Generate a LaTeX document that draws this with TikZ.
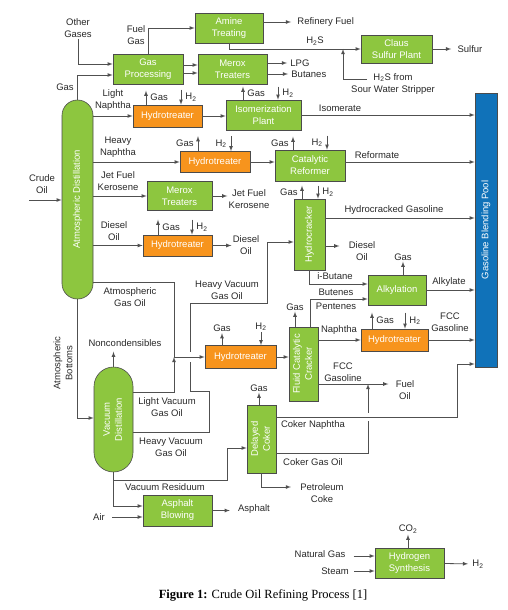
\documentclass[tikz,border=0pt]{standalone}
\usepackage{fontspec}
\setmainfont{Liberation Sans}
\newfontfamily\capfont{Liberation Serif}
\definecolor{procgreen}{RGB}{141,198,63}
\definecolor{htrorange}{RGB}{247,148,29}
\definecolor{poolblue}{RGB}{16,114,185}
\definecolor{edgegray}{RGB}{75,75,75}
\definecolor{linegray}{RGB}{80,80,80}
\definecolor{txtgray}{RGB}{40,40,40}
\newcommand{\vtxt}[1]{\rotatebox{90}{\begin{tabular}{@{}c@{}}#1\end{tabular}}}
\begin{document}
\begin{tikzpicture}[x=1pt,y=-1pt,>=latex,line width=.8pt,
    every node/.style={font=\fontsize{9.5}{12}\selectfont},
    proc/.style={draw=edgegray,line width=.6pt,fill=procgreen,text=white,align=center,inner sep=0pt},
    htr/.style={proc,fill=htrorange},
    lbl/.style={text=txtgray,align=center,inner sep=1pt},
    flow/.style={draw=linegray,->}]
    \useasboundingbox (0,0) rectangle (507,610);
    % units
    \node [proc,rounded corners=15.5pt,minimum width=31pt,minimum height=199pt] (atm) at (77.5,199.5) {\vtxt{Atmospheric Distillation}};
    \node [proc,rounded corners=19.5pt,minimum width=39pt,minimum height=105pt] (vac) at (113.5,419.5) {\vtxt{Vacuum\\Distillation}};
    \node [proc,minimum width=70pt,minimum height=30pt] (gasproc) at (148,69) {Gas\\Processing};
    \node [proc,minimum width=68pt,minimum height=30pt] (amine) at (229,28) {Amine\\Treating};
    \node [proc,minimum width=69pt,minimum height=30pt] (merox1) at (232.5,69) {Merox\\Treaters};
    \node [proc,minimum width=71pt,minimum height=28pt] (claus) at (396.5,49) {Claus\\Sulfur Plant};
    \node [htr,minimum width=69pt,minimum height=22pt] (ht1) at (167.5,116) {Hydrotreater};
    \node [proc,minimum width=75pt,minimum height=30pt] (isom) at (263.5,115) {Isomerization\\Plant};
    \node [htr,minimum width=70pt,minimum height=21pt] (ht2) at (215,162) {Hydrotreater};
    \node [proc,minimum width=70pt,minimum height=31pt] (reformer) at (310,165.5) {Catalytic\\Reformer};
    \node [proc,minimum width=65pt,minimum height=29pt] (merox2) at (179.5,196) {Merox\\Treaters};
    \node [htr,minimum width=69pt,minimum height=21pt] (ht3) at (177.5,245.5) {Hydrotreater};
    \node [proc,minimum width=31pt,minimum height=71pt] (hcrack) at (309.5,234.5) {\vtxt{Hydrocracker}};
    \node [proc,minimum width=58pt,minimum height=30pt] (alky) at (397,290) {Alkylation};
    \node [htr,minimum width=71pt,minimum height=23pt] (ht4) at (240.5,357) {Hydrotreater};
    \node [proc,minimum width=29pt,minimum height=74pt] (fcc) at (303.5,364) {\vtxt{Fluid Catalytic\\Cracker}};
    \node [htr,minimum width=67pt,minimum height=22pt] (ht5) at (394.5,340) {Hydrotreater};
    \node [proc,minimum width=29pt,minimum height=68pt] (coker) at (261.5,439) {\vtxt{Delayed\\Coker}};
    \node [proc,minimum width=69pt,minimum height=31pt] (asphalt) at (177.5,510.5) {Asphalt\\Blowing};
    \node [proc,minimum width=69pt,minimum height=30pt] (h2syn) at (409.5,563) {Hydrogen\\Synthesis};
    \node [proc,fill=poolblue,minimum width=22pt,minimum height=274pt] (pool) at (486,230) {\vtxt{Gasoline Blending Pool}};

    % gas section
    \node [lbl] (othergas) at (78,28) {Other\\Gases};
    \draw [flow] (othergas) |- ([yshift=5pt]gasproc.west);
    \draw [flow] (atm) |- ([yshift=-6pt]gasproc.west);
    \node [lbl] at (65,87) {Gas};
    \draw [flow] (gasproc.north) |- (amine);
    \node [lbl] at (136,35) {Fuel\\Gas};
    \node [lbl,anchor=west] (reffuel) at (296,22) {Refinery Fuel};
    \draw [flow,shorten >=5pt] (amine.east |- reffuel) -- (reffuel);
    \draw [flow] (amine.south) |- (claus);
    \node [lbl] at (315,41) {H\textsubscript{2}S};
    \coordinate (swsjoin) at (343,49);
    \coordinate (swsend) at (367,79);
    \draw [flow] (swsend) -| (swsjoin);
    \node [lbl] at (393,84) {H\textsubscript{2}S from\\Sour Water Stripper};
    \node [lbl] (sulfur) at (470,49) {Sulfur};
    \draw [flow,shorten >=5pt] (claus) -- (sulfur);
    \draw [flow] ([yshift=4pt]gasproc.east) -- ([yshift=4pt]merox1.west);
    \draw [flow] ([yshift=-4pt]gasproc.east) -- ([yshift=-4pt]merox1.west);
    \node [lbl,anchor=west] (lpg) at (289,63) {LPG};
    \node [lbl,anchor=west] (butanes) at (290,74) {Butanes};
    \draw [flow,shorten >=2pt] (merox1.east |- lpg) -- (lpg);
    \draw [flow,shorten >=2pt] (merox1.east |- butanes) -- (butanes);

    % light naphtha
    \draw [flow] (atm.east |- ht1) -- (ht1);
    \node [lbl] at (113,100.5) {Light\\Naphtha};
    \draw [flow] ([xshift=-21.5pt]ht1.north) -- ++(0,-14) node [lbl,midway,right=3pt] {Gas};
    \draw [flow] ([xshift=13.5pt,yshift=15pt]ht1.north) -- ([xshift=13.5pt]ht1.north) node [lbl,midway,right=3pt] {H\textsubscript{2}};
    \draw [flow] (ht1) -- (ht1 -| isom.west);
    \draw [flow] ([xshift=-20.5pt]isom.north) -- ++(0,-13) node [lbl,midway,right=3pt] {Gas};
    \draw [flow] ([xshift=14.5pt,yshift=13pt]isom.north) -- ([xshift=14.5pt]isom.north) node [lbl,midway,right=3pt] {H\textsubscript{2}};
    \draw [flow] (isom) -- (isom -| pool.west);
    \node [lbl] at (340,108) {Isomerate};

    % heavy naphtha
    \draw [flow] (atm.east |- ht2) -- (ht2);
    \node [lbl] at (118,147.5) {Heavy\\Naphtha};
    \draw [flow] ([xshift=-17pt]ht2.north) -- ++(0,-15) node [lbl,midway,left=3pt] {Gas};
    \draw [flow] ([xshift=16pt,yshift=15pt]ht2.north) -- ([xshift=16pt]ht2.north) node [lbl,midway,left=3pt] {H\textsubscript{2}};
    \draw [flow] (ht2) -- (ht2 -| reformer.west);
    \draw [flow] ([xshift=-17pt]reformer.north) -- ++(0,-13) node [lbl,midway,left=3pt] {Gas};
    \draw [flow] ([xshift=17pt,yshift=14pt]reformer.north) -- ([xshift=17pt]reformer.north) node [lbl,midway,left=3pt] {H\textsubscript{2}};
    \draw [flow] (reformer.east |- ht2) -- (ht2 -| pool.west);
    \node [lbl] at (377,155) {Reformate};

    % kerosene and diesel
    \draw [flow] (atm.east |- merox2) -- (merox2);
    \node [lbl] at (118,181) {Jet Fuel\\Kerosene};
    \node [lbl] (jetout) at (249,199) {Jet Fuel\\Kerosene};
    \draw [flow] (merox2) -- (merox2 -| jetout.west);
    \draw [flow] (atm.east |- ht3) -- (ht3);
    \node [lbl] at (114,231) {Diesel\\Oil};
    \draw [flow] ([xshift=-19.5pt]ht3.north) -- ++(0,-15) node [lbl,midway,right=3pt] {Gas};
    \draw [flow] ([xshift=14.5pt,yshift=15pt]ht3.north) -- ([xshift=14.5pt]ht3.north) node [lbl,midway,right=3pt] {H\textsubscript{2}};
    \node [lbl] (diesel1) at (246,245) {Diesel\\Oil};
    \draw [flow] (ht3) -- (ht3 -| diesel1.west);

    % hydrocracker and alkylation
    \draw [flow] ([xshift=-7.5pt]hcrack.north) -- ++(0,-13) node [lbl,midway,left=3pt] {Gas};
    \draw [flow] ([xshift=8.5pt,yshift=13pt]hcrack.north) -- ([xshift=8.5pt]hcrack.north) node [lbl,midway,right=3pt] {H\textsubscript{2}};
    \draw [flow] (hcrack.east |- 0,218) -- (pool.west |- 0,218);
    \node [lbl] at (394,210) {Hydrocracked Gasoline};
    \node [lbl] (diesel2) at (362,251) {Diesel\\Oil};
    \draw [flow,shorten >=8pt] (hcrack.east |- 0,246) -- (diesel2.west |- 0,246);
    \draw [flow] (hcrack) |- ([yshift=6pt]alky.west);
    \node [lbl] at (335,276) {i-Butane};
    \draw [flow] ([xshift=6.5pt]fcc.north) |- ([yshift=-9pt]alky.west);
    \node [lbl] at (336,292) {Butenes};
    \node [lbl] at (336,306) {Pentenes};
    \draw [flow] ([xshift=6pt]alky.north) -- ++(0,-13) node [lbl,above] {Gas};
    \draw [flow] (alky) -- (alky -| pool.west);
    \node [lbl] at (449,282) {Alkylate};

    % gas oils
    \coordinate (agojoin) at (174,357);
    \draw [draw=linegray] (atm.east |- 0,282) -| (agojoin);
    \node [lbl] at (130,297) {Atmospheric\\Gas Oil};
    \draw [flow] (vac.east |- 0,392) -| (agojoin);
    \node [lbl] at (167,407.5) {Light Vacuum\\Gas Oil};
    \draw [flow] (vac.east |- 0,432) -- (209,432) -- (209,391) -- (190,391) -- (190,303) -- (267,303) |- ([yshift=-7.5pt]hcrack.west);
    \node [lbl] at (171,447) {Heavy Vacuum\\Gas Oil};
    \node [lbl] at (227,290) {Heavy Vacuum\\Gas Oil};
    \draw [white,line width=3pt] (190,352) -- (190,362);
    \draw [flow] (agojoin) -- (ht4);
    \draw [flow] ([xshift=-18.5pt]ht4.north) -- ++(0,-12) node [lbl,above] {Gas};
    \draw [flow] ([xshift=20.5pt,yshift=13pt]ht4.north) node [lbl,above] {H\textsubscript{2}} -- ([xshift=20.5pt]ht4.north);
    \draw [flow] (ht4) -- (ht4 -| fcc.west);

    % fluid catalytic cracker
    \draw [flow] ([xshift=-8.5pt]fcc.north) -- ++(0,-15) node [lbl,above] {Gas};
    \draw [flow] (fcc.east |- ht5) -- (ht5);
    \node [lbl] at (339,330) {Naphtha};
    \draw [flow] ([xshift=-22.5pt]ht5.north) -- ++(0,-16) node [lbl,midway,right=3pt] {Gas};
    \draw [flow] ([xshift=10.5pt,yshift=16pt]ht5.north) -- ([xshift=10.5pt]ht5.north) node [lbl,midway,right=3pt] {H\textsubscript{2}};
    \draw [flow] (ht5) -- (ht5 -| pool.west);
    \node [lbl] at (450,322.5) {FCC\\Gasoline};
    \node [lbl] (fueloil) at (405,390) {Fuel\\Oil};
    \draw [flow,shorten >=6pt] (fcc.east |- 0,384) -- (fueloil.west |- 0,384);
    \node [lbl] at (343,372) {FCC\\Gasoline};

    % delayed coker
    \coordinate (cgojoin) at (368,384);
    \draw [flow] (coker.east |- 0,453) -| (cgojoin);
    \node [lbl] at (313,462) {Coker Gas Oil};
    \draw [white,line width=3pt] (368,413) -- (368,421);
    \draw [flow] (coker.east |- 0,417) -| (457,364) -- (pool.west |- 0,364);
    \node [lbl] at (313,425) {Coker Naphtha};
    \draw [flow] ([xshift=-2.5pt]coker.north) -- ++(0,-12) node [lbl,above] {Gas};
    \node [lbl] (petcoke) at (322,493) {Petroleum\\Coke};
    \draw [flow] (coker) |- ([xshift=-8pt]petcoke.west |- 0,487);

    % vacuum distillation
    \draw [flow] (atm) |- (vac.west |- 0,418);
    \node [lbl,rotate=90] at (63,363) {Atmospheric\\Bottoms};
    \coordinate (crudein) at (29,200);
    \draw [flow] (crudein) -- (atm.west |- crudein);
    \node [lbl] at (42,184.5) {Crude\\Oil};
    \draw [flow] (vac.north) -- ++(0,-15);
    \node [lbl] at (125,343) {Noncondensibles};
    \draw [flow] (vac) |- (227,480) |- ([yshift=-9pt]coker.west);
    \node [lbl] at (165,487) {Vacuum Residuum};
    \draw [flow] (vac) |- ([yshift=4.5pt]asphalt.west);
    \node [lbl] (air) at (99,517) {Air};
    \draw [flow] ([xshift=6pt]air.east) -- (asphalt.west |- air);
    \node [lbl] (asphout) at (254,509) {Asphalt};
    \draw [flow,shorten >=7pt] (asphalt) -- (asphalt -| asphout.west);

    % hydrogen
    \draw [flow] ([xshift=-1.5pt]h2syn.north) -- ++(0,-13) node [lbl,above] {CO\textsubscript{2}};
    \node [lbl] (natgas) at (320,554) {Natural Gas};
    \draw [flow] ([xshift=7pt]natgas.east |- 0,556) -- (h2syn.west |- 0,556);
    \node [lbl] (steam) at (335,571) {Steam};
    \draw [flow] ([xshift=4pt]steam.east) -- (h2syn.west |- steam);
    \node [lbl] (h2out) at (478,564) {H\textsubscript{2}};
    \draw [flow,shorten >=3pt] (h2syn) -- (h2out);

    \node [font=\capfont\fontsize{12.5}{14}\selectfont] (caption) at (263,595) {\textbf{Figure 1:} Crude Oil Refining Process [1]};
\end{tikzpicture}
\end{document}
